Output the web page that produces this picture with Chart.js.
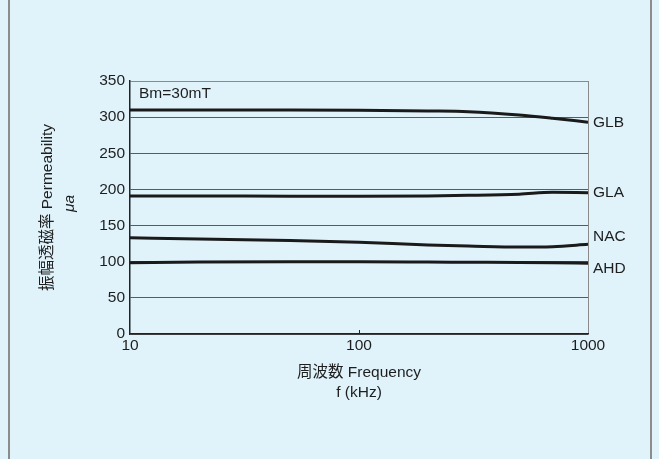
<!DOCTYPE html>
<html>
<head>
<meta charset="utf-8">
<script src="https://cdn.jsdelivr.net/npm/chart.js@4/dist/chart.umd.min.js"></script>
<style>
  html, body { margin: 0; padding: 0; background: #e0f3fb; }
  #wrap { position: relative; width: 659px; height: 459px; overflow: hidden; }
  #frame { position: absolute; left: 8px; top: -5px; width: 640px; height: 470px;
           border-left: 2px solid #8c8c8c; border-right: 2px solid #8c8c8c; }
  canvas { position: absolute; left: 0; top: 0; }
</style>
</head>
<body>
<div id="wrap">
  <div id="frame"></div>
  <canvas id="c" width="659" height="459"></canvas>
</div>
<script>
// Frequency points (kHz) and amplitude permeability for each material
const freqs = [10, 20, 50, 100, 200, 300, 500, 700, 1000];
const glb   = [310, 310, 310, 309.5, 308.5, 307.5, 303, 298.5, 293];
const gla   = [191, 191, 190.5, 190.5, 191, 191.8, 193.5, 196, 195.5];
const nac   = [133, 131.5, 129.5, 127, 123, 121.7, 120.3, 120.8, 124];
const ahd   = [98.6, 99.5, 100, 100, 99.6, 99.3, 99, 98.6, 97.8];

const seriesNames = ['GLB', 'GLA', 'NAC', 'AHD'];
const seriesData  = [glb, gla, nac, ahd];
// vertical anchor (in permeability units) for each curve's name at the right edge
const nameAnchors = [292, 195, 134, 91];

const xTickValues = [10, 100, 1000];
const yMin = 0, yMax = 350, yStep = 50;

const conditionText = 'Bm=30mT';
const yTitleMain = '振幅透磁率 Permeability';
const yTitleSub = 'μa';
const xTitleMain = '周波数 Frequency';
const xTitleSub = 'f (kHz)';

const FONT = '"Liberation Sans", "Noto Sans CJK JP", Arial, sans-serif';
const FS = 15.5;
const INK = '#1e1e1e';

const datasets = seriesData.map((vals, i) => ({
  label: seriesNames[i],
  data: freqs.map((f, j) => ({ x: f, y: vals[j] })),
  borderColor: '#1a1a1a',
  borderWidth: 3,
  pointRadius: 0,
  fill: false,
  cubicInterpolationMode: 'monotone'
}));

const decorations = {
  id: 'decorations',
  afterDraw(chart) {
    const { ctx, chartArea, scales } = chart;
    const xs = scales.x, ys = scales.y;
    ctx.save();
    ctx.fillStyle = INK;
    ctx.font = FS + 'px ' + FONT;

    // small inward tick on the frequency axis at 100 kHz
    ctx.strokeStyle = '#222';
    ctx.lineWidth = 1;
    const px = Math.round(xs.getPixelForValue(100)) + 0.5;
    ctx.beginPath();
    ctx.moveTo(px, chartArea.bottom);
    ctx.lineTo(px, chartArea.bottom - 4);
    ctx.stroke();

    // curve names at the right edge
    ctx.textAlign = 'left';
    ctx.textBaseline = 'middle';
    seriesNames.forEach((n, i) => {
      ctx.fillText(n, chartArea.right + 5, ys.getPixelForValue(nameAnchors[i]));
    });

    // measurement condition
    ctx.fillText(conditionText, chartArea.left + 9, chartArea.top + 13);

    // x axis title
    ctx.textAlign = 'center';
    const cx = (chartArea.left + chartArea.right) / 2;
    ctx.fillText(xTitleMain, cx, chartArea.bottom + 39);
    ctx.fillText(xTitleSub, cx, chartArea.bottom + 59);

    // y axis title (rotated)
    const cy = (chartArea.top + chartArea.bottom) / 2;
    ctx.translate(chartArea.left - 82, cy);
    ctx.rotate(-Math.PI / 2);
    ctx.fillText(yTitleMain, 0, 0);
    ctx.font = 'italic ' + FS + 'px ' + FONT;
    ctx.fillText(yTitleSub, 4, 22);
    ctx.restore();
  }
};

new Chart(document.getElementById('c'), {
  type: 'line',
  data: { datasets },
  options: {
    responsive: false,
    animation: false,
    devicePixelRatio: 1,
    layout: { padding: { left: 0, top: 81, right: 71, bottom: 0 } },
    plugins: { legend: { display: false }, tooltip: { enabled: false } },
    scales: {
      x: {
        type: 'logarithmic',
        min: 10, max: 1000,
        afterBuildTicks(scale) { scale.ticks = xTickValues.map(v => ({ value: v })); },
        afterFit(scale) { scale.height = 125; },
        ticks: {
          autoSkip: false, maxRotation: 0, padding: 2,
          color: INK, font: { family: FONT, size: FS },
          callback: v => String(v)
        },
        grid: {
          drawTicks: false,
          color: c => (c.tick && c.tick.value === 1000) ? '#8a8a8a' : 'rgba(0,0,0,0)',
          lineWidth: 1
        },
        border: { color: '#222', width: 1.5 }
      },
      y: {
        min: yMin, max: yMax,
        afterFit(scale) { scale.width = 130; },
        ticks: {
          stepSize: yStep, padding: 5,
          color: INK, font: { family: FONT, size: FS }
        },
        grid: {
          drawTicks: false,
          color: c => (c.tick && c.tick.value === yMax) ? '#8a8a8a' : '#5a5a5a',
          lineWidth: 1
        },
        border: { color: '#222', width: 1.5 }
      }
    }
  },
  plugins: [decorations]
});
</script>
</body>
</html>
